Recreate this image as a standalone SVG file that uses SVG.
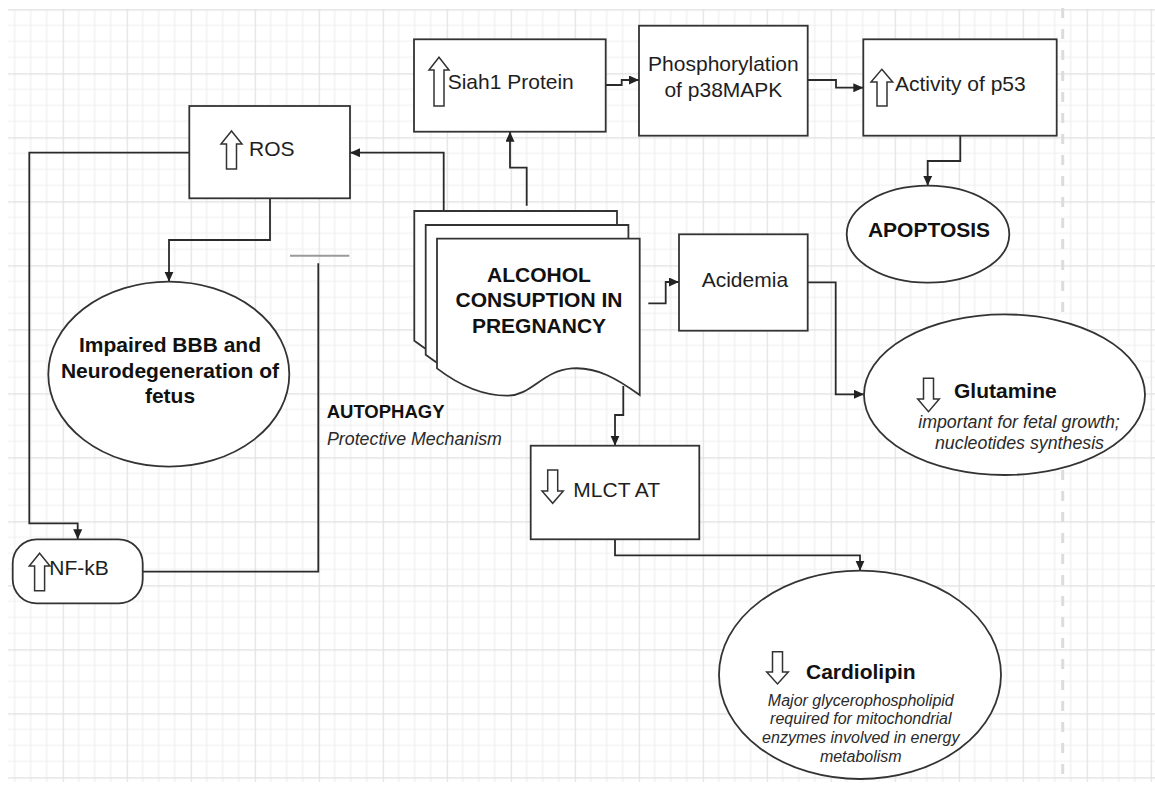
<svg xmlns="http://www.w3.org/2000/svg" width="1155" height="785" viewBox="0 0 1155 785">
<defs>
<pattern id="grid" x="-1.3" y="9.3" width="64" height="64" patternUnits="userSpaceOnUse">
<path d="M16 0V64M32 0V64M48 0V64M0 16H64M0 32H64M0 48H64" stroke="#efefef" stroke-width="1.2" fill="none"/>
<path d="M0.6 0V64M0 0.6H64" stroke="#e0e0e0" stroke-width="1.2" fill="none"/>
</pattern>
<marker id="arr" markerUnits="userSpaceOnUse" markerWidth="11" markerHeight="10" refX="10" refY="4.5" orient="auto">
<path d="M0,0 L10,4.5 L0,9 Z" fill="#222"/>
</marker>
<path id="doc" d="M0,0 H202.7 V156.3 C 180,140 160,128 135,129.7 C 105,132 95,157 70,157 C 45,157 20,145 0,129.7 Z"/>
</defs>
<style>
.box{fill:#fff;stroke:#333;stroke-width:1.8}
.icon{fill:#fff;stroke:#333;stroke-width:1.5;stroke-linejoin:miter}
.con{fill:none;stroke:#2a2a2a;stroke-width:1.8}
.t{font-family:"Liberation Sans",Arial,sans-serif;font-size:21px;fill:#1e1e1e}
.b{font-family:"Liberation Sans",Arial,sans-serif;font-size:21px;font-weight:bold;fill:#111}
.i{font-family:"Liberation Sans",Arial,sans-serif;font-style:italic;fill:#2a2a2a}
</style>
<rect width="1155" height="785" fill="#fff"/>
<rect x="8" y="9" width="1147" height="773" fill="url(#grid)"/>
<line x1="1062.7" y1="8" x2="1062.7" y2="782" stroke="#dcdcdc" stroke-width="3" stroke-dasharray="10 11"/>

<g id="connectors">
<path class="con" d="M443.7,210.7 V152.7 H350" marker-end="url(#arr)"/>
<path class="con" d="M526.7,205.7 V167.7 H510 V131.7" marker-end="url(#arr)"/>
<path class="con" d="M605.7,85 H621.7 V80 H639" marker-end="url(#arr)"/>
<path class="con" d="M807.7,80 H836 V87.7 H863.3" marker-end="url(#arr)"/>
<path class="con" d="M960.3,135.7 V161 H927.7 V185.7" marker-end="url(#arr)"/>
<path class="con" d="M648.3,303.3 H665.7 V282 H679" marker-end="url(#arr)"/>
<path class="con" d="M807.7,282.3 H835.7 V394.3 H864" marker-end="url(#arr)"/>
<path class="con" d="M623.3,386 V415 H615 V445.7" marker-end="url(#arr)"/>
<path class="con" d="M615,539.3 V555.3 H860 V570.7" marker-end="url(#arr)"/>
<path class="con" d="M270,198.3 V240 H169 V281.7" marker-end="url(#arr)"/>
<path class="con" d="M189.3,152.7 H29.3 V523.3 H77.7 V539.3" marker-end="url(#arr)"/>
<path class="con" d="M142.7,571.7 H318.3 V263.3"/>
<path d="M290,255.7 H349.3" stroke="#9a9a9a" stroke-width="2" fill="none"/>
</g>

<g id="ros">
<rect class="box" x="189.3" y="106" width="160.7" height="92.3"/>
<path class="icon" d="M231.5,131 L242,144 L236.5,144 L236.5,169 L226.5,169 L226.5,144 L221,144 Z"/>
<text class="t" x="249" y="156">ROS</text>
</g>

<g id="siah1">
<rect class="box" x="414" y="39.3" width="191.7" height="92.4"/>
<path class="icon" d="M439,57.3 L449,70 L444,70 L444,106 L434,106 L434,70 L429,70 Z"/>
<text class="t" x="447.7" y="89.3">Siah1 Protein</text>
</g>

<g id="p38">
<rect class="box" x="639" y="25.7" width="168.7" height="110"/>
<text class="t" x="723.4" y="71" text-anchor="middle">Phosphorylation</text>
<text class="t" x="723.4" y="97" text-anchor="middle">of p38MAPK</text>
</g>

<g id="p53">
<rect class="box" x="863.3" y="39.3" width="193.4" height="96.4"/>
<path class="icon" d="M881.8,69.3 L892.7,82 L887,82 L887,106 L877,106 L877,82 L871,82 Z"/>
<text class="t" x="895" y="91">Activity of p53</text>
</g>

<g id="apoptosis">
<ellipse class="box" cx="928" cy="234.2" rx="81.3" ry="48.5"/>
<text class="b" x="929" y="237.3" text-anchor="middle">APOPTOSIS</text>
</g>

<g id="alcohol">
<use href="#doc" class="box" x="414.3" y="211"/>
<use href="#doc" class="box" x="425.7" y="225"/>
<use href="#doc" class="box" x="437" y="238.7"/>
<text class="b" x="539" y="281.7" text-anchor="middle">ALCOHOL</text>
<text class="b" x="539" y="306.7" text-anchor="middle">CONSUPTION IN</text>
<text class="b" x="539" y="332.7" text-anchor="middle">PREGNANCY</text>
</g>

<g id="acidemia">
<rect class="box" x="679" y="234.3" width="128.7" height="96.4"/>
<text class="t" x="701.7" y="286.7">Acidemia</text>
</g>

<g id="glutamine">
<ellipse class="box" cx="1004.5" cy="394.7" rx="140.5" ry="80.3"/>
<path class="icon" d="M923.5,378.3 L933.5,378.3 L933.5,399 L939.3,399 L928.5,411.7 L917.7,399 L923.5,399 Z"/>
<text class="b" x="954" y="398.3">Glutamine</text>
<text class="i" x="1019" y="427.7" font-size="17.8" text-anchor="middle">important for fetal growth;</text>
<text class="i" x="1019.5" y="449.3" font-size="17.8" text-anchor="middle">nucleotides synthesis</text>
</g>

<g id="mlct">
<rect class="box" x="530.7" y="445.7" width="168.6" height="93.6"/>
<path class="icon" d="M547.7,470 L557.7,470 L557.7,491 L563.3,491 L552.7,503.3 L542,491 L547.7,491 Z"/>
<text class="t" x="573.3" y="496.7">MLCT AT</text>
</g>

<g id="cardiolipin">
<ellipse class="box" cx="860" cy="674.8" rx="141" ry="104.2"/>
<path class="icon" d="M772.5,651.7 L782.5,651.7 L782.5,672 L788.3,672 L777.5,684 L766.7,672 L772.5,672 Z"/>
<text class="b" x="806" y="679">Cardiolipin</text>
<text class="i" x="860.8" y="705.7" font-size="16" text-anchor="middle">Major glycerophospholipid</text>
<text class="i" x="860.8" y="724.3" font-size="16" text-anchor="middle">required for mitochondrial</text>
<text class="i" x="860.8" y="743.3" font-size="16" text-anchor="middle">enzymes involved in energy</text>
<text class="i" x="860.8" y="761.7" font-size="16" text-anchor="middle">metabolism</text>
</g>

<g id="impaired">
<ellipse class="box" cx="168.8" cy="374.2" rx="120.5" ry="92.5"/>
<text class="b" x="170" y="351.7" text-anchor="middle">Impaired BBB and</text>
<text class="b" x="170" y="378.3" text-anchor="middle">Neurodegeneration of</text>
<text class="b" x="170" y="403.3" text-anchor="middle">fetus</text>
</g>

<g id="nfkb">
<rect class="box" x="12.7" y="539.3" width="130" height="64" rx="24" ry="24"/>
<path class="icon" d="M39.6,553.3 L50,566 L44.6,566 L44.6,590.7 L34.6,590.7 L34.6,566 L29.3,566 Z"/>
<text class="t" x="49.3" y="575">NF-kB</text>
</g>

<g id="autophagy">
<text class="b" x="326.7" y="418.3" font-size="18.5" style="font-size:18.5px">AUTOPHAGY</text>
<text class="i" x="327" y="445" font-size="17.8">Protective Mechanism</text>
</g>
</svg>
